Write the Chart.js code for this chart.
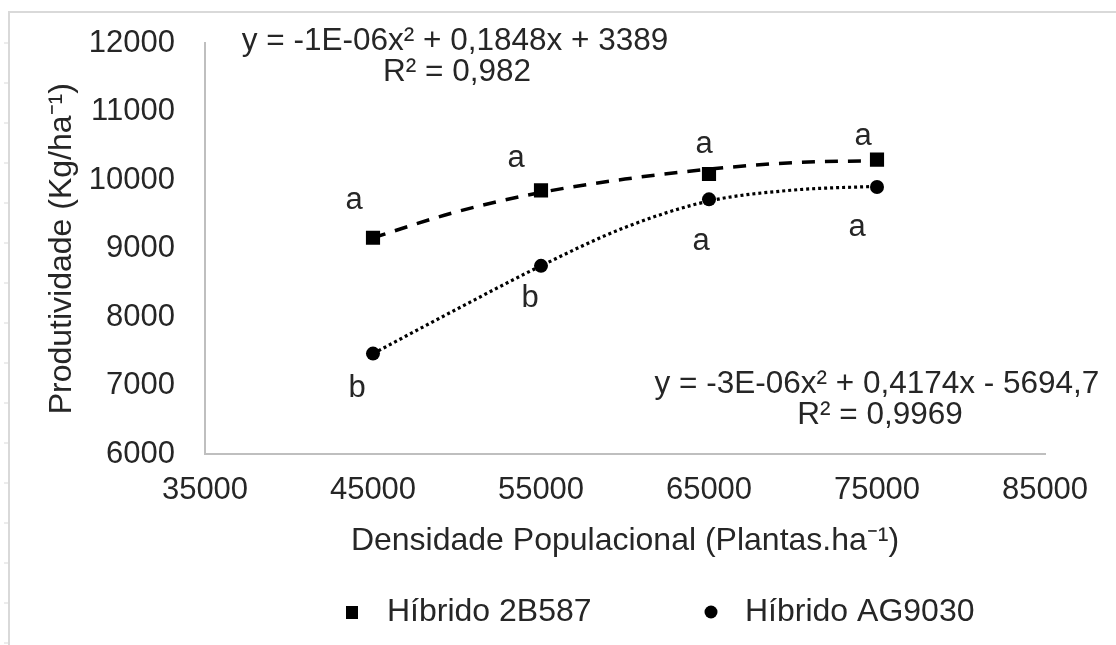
<!DOCTYPE html>
<html>
<head>
<meta charset="utf-8">
<script src="https://cdn.jsdelivr.net/npm/chart.js@4.4.1/dist/chart.umd.min.js"></script>
<style>
    body { margin: 0; background: #ffffff; }
    #wrap { width: 1116px; height: 645px; }
</style>
</head>
<body>
<div id="wrap"><canvas id="graficoProdutividade"></canvas></div>
<script>
//DADOS
const densidades = [45000, 55000, 65000, 75000];
const hibrido2B587 = [9160, 9850, 10090, 10300];
const hibridoAG9030 = [7470, 8750, 9720, 9900];
const letras2B587 = ['a', 'a', 'a', 'a'];
const letrasAG9030 = ['b', 'b', 'a', 'a'];

// linhas de tendencia
const densidadesTendencia = [45000, 50000, 55000, 60000, 65000, 70000, 75000];
const tendencia2B587 = [9160, 9540, 9820, 10015, 10160, 10255, 10285];
const tendenciaAG9030 = [7470, 8120, 8750, 9310, 9695, 9855, 9910];

const xTicks = [35000, 45000, 55000, 65000, 75000, 85000];
const yTicks = [6000, 7000, 8000, 9000, 10000, 11000, 12000];

const equacao2B587 = ['y = -1E-06x² + 0,1848x + 3389', 'R² = 0,982'];
const equacaoAG9030 = ['y = -3E-06x² + 0,4174x - 5694,7', 'R² = 0,9969'];
const nomes = ['Híbrido 2B587', 'Híbrido AG9030'];

//GENERAL
const fonte = 'Liberation Sans, Arial, sans-serif';
const corTexto = '#262626';
const corEixo = '#bfbfbf';

function toPoints(xs, ys) {
    return xs.map((x, i) => ({ x: x, y: ys[i] }));
}

// textos soltos: moldura, equacoes, letras e legenda
const textosPlugin = {
    id: 'textos',
    beforeDraw(chart) {
        const ctx = chart.ctx;
        ctx.save();
        ctx.strokeStyle = '#d9d9d9';
        ctx.lineWidth = 2;
        ctx.beginPath();
        ctx.moveTo(9, 645);
        ctx.lineTo(9, 12);
        ctx.lineTo(1116, 12);
        ctx.stroke();
        ctx.lineWidth = 1;
        for (let y = 43; y < 645; y += 40) {
            ctx.beginPath();
            ctx.moveTo(4, y);
            ctx.lineTo(9, y);
            ctx.stroke();
        }
        ctx.restore();
    },
    afterDatasetsDraw(chart) {
        const ctx = chart.ctx;
        ctx.save();
        ctx.fillStyle = corTexto;
        ctx.textAlign = 'center';
        ctx.textBaseline = 'middle';
        ctx.font = '31.5px ' + fonte;

        // equacoes
        ctx.fillText(equacao2B587[0], 455, 41);
        ctx.fillText(equacao2B587[1], 457, 72);
        ctx.fillText(equacaoAG9030[0], 877, 384);
        ctx.fillText(equacaoAG9030[1], 880, 415);

        // letras
        ctx.font = '31px ' + fonte;
        const desloc = [
            [[-19, -37], [-25, -32], [-5, -30], [-14, -23]],
            [[-16, 35], [-11, 33], [-8, 42], [-20, 40]]
        ];
        [letras2B587, letrasAG9030].forEach((letras, d) => {
            const pontos = chart.getDatasetMeta(d).data;
            letras.forEach((letra, i) => {
                ctx.fillText(letra, pontos[i].x + desloc[d][i][0], pontos[i].y + desloc[d][i][1]);
            });
        });

        // legenda
        ctx.font = '32px ' + fonte;
        ctx.textAlign = 'left';
        ctx.fillStyle = '#000000';
        ctx.fillRect(346, 606, 12, 13);
        ctx.beginPath();
        ctx.arc(711, 612, 6.5, 0, Math.PI * 2);
        ctx.fill();
        ctx.fillStyle = corTexto;
        ctx.fillText(nomes[0], 387, 612);
        ctx.fillText(nomes[1], 745, 612);
        ctx.restore();
    }
};

const graphicProd = document.getElementById('graficoProdutividade');

const graphicForProd = new Chart(graphicProd, {
    type: 'line',
    data: {
        datasets: [{
            label: nomes[0],
            data: toPoints(densidades, hibrido2B587),
            showLine: false,
            pointStyle: 'rect',
            pointRadius: 10,
            backgroundColor: '#000000',
            borderColor: '#000000',
            borderWidth: 0
        }, {
            label: nomes[1],
            data: toPoints(densidades, hibridoAG9030),
            showLine: false,
            pointStyle: 'circle',
            pointRadius: 7,
            backgroundColor: '#000000',
            borderColor: '#000000',
            borderWidth: 0
        }, {
            label: 'Tendência 2B587',
            data: toPoints(densidadesTendencia, tendencia2B587),
            borderColor: '#000000',
            borderWidth: 3.5,
            borderDash: [13, 10],
            pointRadius: 0,
            cubicInterpolationMode: 'monotone'
        }, {
            label: 'Tendência AG9030',
            data: toPoints(densidadesTendencia, tendenciaAG9030),
            borderColor: '#000000',
            borderWidth: 3.2,
            borderDash: [3, 3],
            pointRadius: 0,
            cubicInterpolationMode: 'monotone'
        }]
    },
    options: {
        responsive: true,
        maintainAspectRatio: false,
        animation: false,
        layout: { padding: { top: 43, left: 20, right: 71, bottom: 85 } },
        plugins: {
            legend: { display: false },
            tooltip: { enabled: false }
        },
        scales: {
            x: {
                type: 'linear',
                min: 35000,
                max: 85000,
                grid: { display: false, drawTicks: false },
                border: { display: true, color: corEixo, width: 2 },
                afterBuildTicks: scale => { scale.ticks = xTicks.map(v => ({ value: v })); },
                ticks: {
                    padding: 17,
                    maxRotation: 0,
                    autoSkip: false,
                    color: corTexto,
                    font: { family: fonte, size: 31 },
                    callback: v => String(v)
                },
                title: {
                    display: true,
                    text: 'Densidade Populacional (Plantas.ha⁻¹)',
                    color: corTexto,
                    font: { family: fonte, size: 32 },
                    padding: { top: -4, bottom: 0 }
                }
            },
            y: {
                min: 6000,
                max: 12000,
                grid: { display: false, drawTicks: false },
                border: { display: true, color: corEixo, width: 2 },
                afterBuildTicks: scale => { scale.ticks = yTicks.map(v => ({ value: v })); },
                afterFit: scale => {
                    scale.width = 185;
                    scale.paddingTop = 0;
                    scale.paddingBottom = 0;
                },
                ticks: {
                    padding: 30,
                    autoSkip: false,
                    color: corTexto,
                    font: { family: fonte, size: 31 },
                    callback: v => String(v)
                },
                title: {
                    display: true,
                    text: 'Produtividade (Kg/ha⁻¹)',
                    color: corTexto,
                    font: { family: fonte, size: 32 },
                    padding: { top: 23, bottom: 0 }
                }
            }
        }
    },
    plugins: [textosPlugin]
});
</script>
</body>
</html>
